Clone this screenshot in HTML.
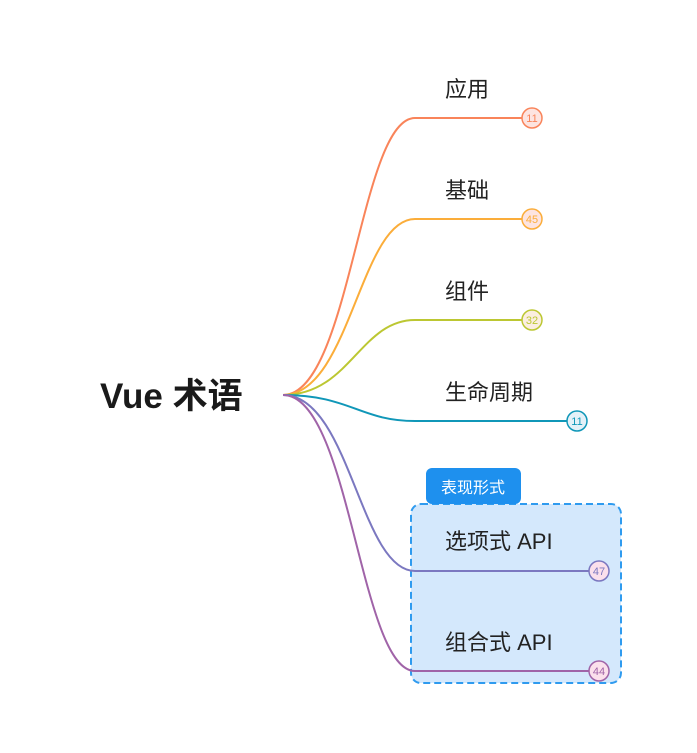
<!DOCTYPE html>
<html><head><meta charset="utf-8"><style>
html,body{margin:0;padding:0;background:#fff;}
svg text{font-family:"Liberation Sans","Noto Sans CJK SC",sans-serif;}
</style></head><body>
<svg width="697" height="748" viewBox="0 0 697 748" xmlns="http://www.w3.org/2000/svg">
<rect x="411" y="504" width="210" height="179" rx="10" fill="#d4e8fc" stroke="#2f9bef" stroke-width="2" stroke-dasharray="7,4"/>
<rect x="426" y="468" width="95" height="36" rx="6" fill="#1e90ee"/>
<text x="473" y="493" font-size="16" fill="#fff" text-anchor="middle">表现形式</text>
<g fill="none" stroke-width="2">
<path d="M283 395 C350 395 360 118 415 118 L522 118" stroke="#f9845a"/>
<path d="M283 395 C350 395 360 219 415 219 L522 219" stroke="#fbad3a"/>
<path d="M283 395 C350 395 360 320 415 320 L522 320" stroke="#bcc732"/>
<path d="M283 395 C350 395 360 421 415 421 L567 421" stroke="#1097b8"/>
<path d="M283 395 C350 395 360 571 415 571 L589 571" stroke="#7b78c0"/>
<path d="M283 395 C350 395 360 671 415 671 L589 671" stroke="#a064a8"/>
</g>
<g font-size="11" text-anchor="middle">
<circle cx="532" cy="118" r="10" fill="#fde4e0" stroke="#f9845a" stroke-width="1.5"/><text x="532" y="122" fill="#f9845a">11</text>
<circle cx="532" cy="219" r="10" fill="#fde4e0" stroke="#fbad3a" stroke-width="1.5"/><text x="532" y="223" fill="#fbad3a">45</text>
<circle cx="532" cy="320" r="10" fill="#fbeee0" stroke="#bcc732" stroke-width="1.5"/><text x="532" y="324" fill="#bcc732">32</text>
<circle cx="577" cy="421" r="10" fill="#e4f1f8" stroke="#1097b8" stroke-width="1.5"/><text x="577" y="425" fill="#1097b8">11</text>
<circle cx="599" cy="571" r="10" fill="#fbe0ec" stroke="#7b78c0" stroke-width="1.5"/><text x="599" y="575" fill="#7b78c0">47</text>
<circle cx="599" cy="671" r="10" fill="#fbe0ec" stroke="#a064a8" stroke-width="1.5"/><text x="599" y="675" fill="#a064a8">44</text>
</g>
<g font-size="22" fill="#222">
<text x="445" y="97">应用</text>
<text x="445" y="198">基础</text>
<text x="445" y="299">组件</text>
<text x="445" y="400">生命周期</text>
<text x="445" y="549">选项式 API</text>
<text x="445" y="650">组合式 API</text>
</g>
<text x="100" y="408" font-size="35" font-weight="bold" fill="#1a1a1a">Vue 术语</text>
</svg>
</body></html>
